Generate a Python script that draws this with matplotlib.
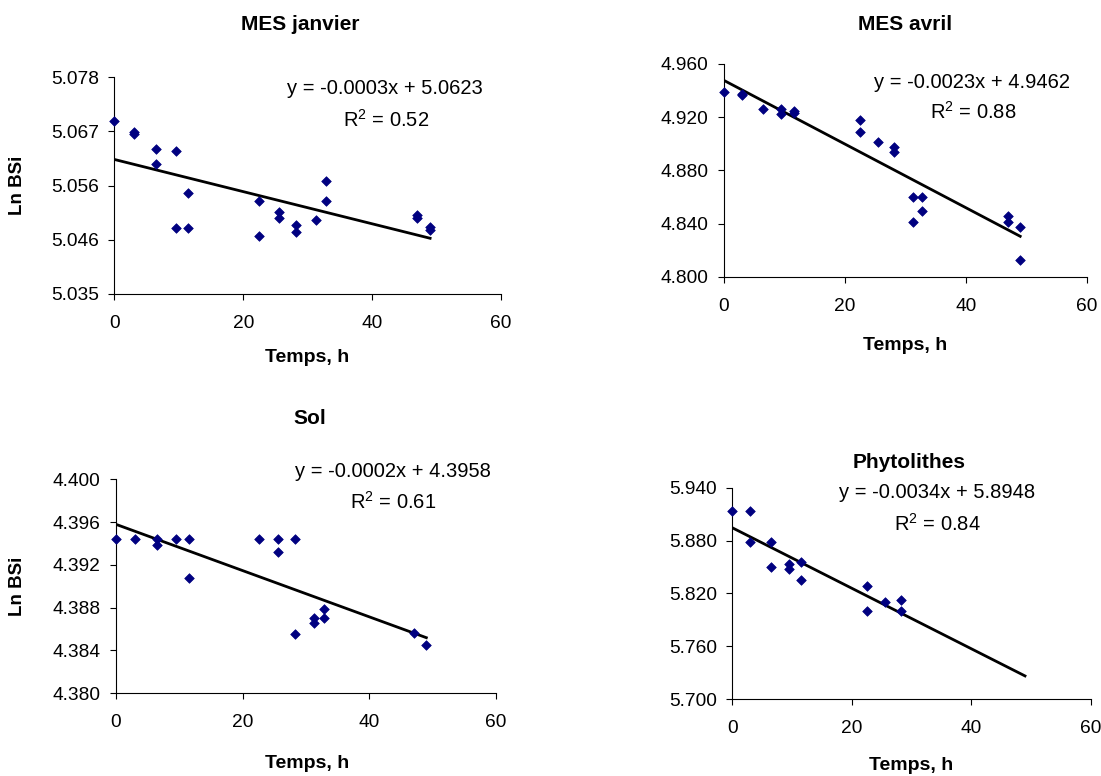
import matplotlib
matplotlib.use("Agg")
import matplotlib.pyplot as plt
import numpy as np

plt.rcParams["font.family"] = ["Liberation Sans", "DejaVu Sans"]

# --- data ------------------------------------------------------------------
jan_t = [0, 3, 3, 6.5, 6.5, 9.5, 9.5, 11.5, 11.5, 22.5, 22.5, 25.5, 25.5,
         28.2, 28.2, 31.3, 32.8, 32.8, 47, 47, 49, 49]
jan_y = [5.0693, 5.0672, 5.0667, 5.0637, 5.0608, 5.0634, 5.0481, 5.0550, 5.0481,
         5.0535, 5.0465, 5.0512, 5.0500, 5.0486, 5.0473, 5.0497, 5.0574, 5.0535,
         5.0506, 5.0500, 5.0483, 5.0477]

avr_t = [0, 3, 3, 6.5, 9.5, 9.5, 11.5, 11.5, 22.5, 22.5, 25.5, 28.2, 28.2,
         31.3, 31.3, 32.8, 32.8, 47, 47, 49, 49]
avr_y = [4.9387, 4.9376, 4.9364, 4.9259, 4.9259, 4.9224, 4.9249, 4.9229, 4.9179,
         4.9091, 4.9013, 4.8973, 4.8938, 4.8597, 4.8409, 4.8597, 4.8496, 4.8454,
         4.8409, 4.8376, 4.8123]

sol_t = [0, 3, 6.5, 6.5, 9.5, 11.5, 11.5, 22.5, 25.5, 25.5, 28.2, 28.2,
         31.3, 31.3, 32.8, 32.8, 47, 49]
sol_y = [4.3944, 4.3944, 4.3944, 4.3939, 4.3944, 4.3944, 4.3908, 4.3944, 4.3944,
         4.3932, 4.3944, 4.3855, 4.3870, 4.3866, 4.3879, 4.3870, 4.3856, 4.3845]

phy_t = [0, 3, 3, 6.5, 6.5, 9.5, 9.5, 11.5, 11.5, 22.5, 22.5, 25.5, 28.2, 28.2]
phy_y = [5.9135, 5.9135, 5.8782, 5.8782, 5.8502, 5.8528, 5.8471, 5.8555, 5.8357,
         5.8289, 5.8005, 5.8103, 5.8126, 5.8005]

trend_span = [0, 49]

jan_yticks = ["5.035", "5.046", "5.056", "5.067", "5.078"]
avr_yticks = ["4.800", "4.840", "4.880", "4.920", "4.960"]
sol_yticks = ["4.380", "4.384", "4.388", "4.392", "4.396", "4.400"]
phy_yticks = ["5.700", "5.760", "5.820", "5.880", "5.940"]
xticks = [0, 20, 40, 60]

titles = ["MES janvier", "MES avril", "Sol", "Phytolithes"]
equations = ["y = -0.0003x + 5.0623", "y = -0.0023x + 4.9462",
             "y = -0.0002x + 4.3958", "y = -0.0034x + 5.8948"]
r2_labels = ["R$^2$ = 0.52", "R$^2$ = 0.88", "R$^2$ = 0.61", "R$^2$ = 0.84"]

# --- layout (pixels in the 1101x776 picture) -------------------------------
W, H = 1101, 776


def fx(px):
    return px / W


def fy(py):
    return 1 - py / H


panels = [
    # left, right, top, bottom, ymin, ymax, data, ylabels
    (114.3, 501.0, 77.3, 293.8, 5.035, 5.078, (jan_t, jan_y), jan_yticks),
    (724.0, 1086.7, 64.0, 276.7, 4.800, 4.960, (avr_t, avr_y), avr_yticks),
    (116.0, 496.0, 479.3, 693.3, 4.380, 4.400, (sol_t, sol_y), sol_yticks),
    (732.3, 1090.7, 487.7, 699.0, 5.700, 5.940, (phy_t, phy_y), phy_yticks),
]
title_pos = [(300, 24), (905, 25), (310, 418), (909, 462)]
xlabel_pos = [(307, 358), (905, 346), (307, 763), (911, 766)]
eq_pos = [(385, 89), (972, 82), (393, 472), (937, 493)]
r2_pos = [(386, 120), (973, 112), (393, 502), (937, 524)]
ylabel_pos = [(18, 185), None, (18, 586), None]

plt.rcParams["mathtext.fontset"] = "custom"
plt.rcParams["mathtext.rm"] = "Liberation Sans"

fig = plt.figure(figsize=(W / 100, H / 100), dpi=100)

for i, (l, r, t, b, y0, y1, (tt, yy), ylabs) in enumerate(panels):
    ax = fig.add_axes([fx(l), fy(b), (r - l) / W, (b - t) / H])
    ax.scatter(tt, yy, marker="D", s=24, color="#000080", edgecolors="#000080",
               linewidths=0.5, zorder=3, clip_on=False)
    k, c = np.polyfit(tt, yy, 1)
    xs = np.array(trend_span, dtype=float)
    ax.plot(xs, k * xs + c, color="black", linewidth=2.0, zorder=2)

    ax.set_xlim(0, 60)
    ax.set_ylim(y0, y1)
    ax.set_xticks(xticks)
    ax.set_yticks(np.linspace(y0, y1, len(ylabs)))
    ax.set_yticklabels(ylabs)
    for side in ("top", "right"):
        ax.spines[side].set_visible(False)
    for side in ("left", "bottom"):
        ax.spines[side].set_linewidth(0.8)
    ax.tick_params(axis="both", direction="out", length=4, width=0.8,
                   labelsize=13.8)
    ax.tick_params(axis="y", pad=7)
    ax.tick_params(axis="x", pad=11)
    ax.patch.set_alpha(0)

    fig.text(fx(title_pos[i][0]), fy(title_pos[i][1]), titles[i],
             ha="center", va="center", fontsize=15, fontweight="bold")
    fig.text(fx(xlabel_pos[i][0]), fy(xlabel_pos[i][1]), "Temps, h",
             ha="center", va="center", fontsize=14, fontweight="bold")
    fig.text(fx(eq_pos[i][0]), fy(eq_pos[i][1]), equations[i],
             ha="center", va="center", fontsize=14.5)
    fig.text(fx(r2_pos[i][0]), fy(r2_pos[i][1]), r2_labels[i],
             ha="center", va="center", fontsize=14.5)
    if ylabel_pos[i] is not None:
        fig.text(fx(ylabel_pos[i][0]), fy(ylabel_pos[i][1]), "Ln BSi",
                 ha="center", va="center", rotation=90, fontsize=13.5,
                 fontweight="bold")

fig.savefig("out.png", dpi=100, facecolor="white")
